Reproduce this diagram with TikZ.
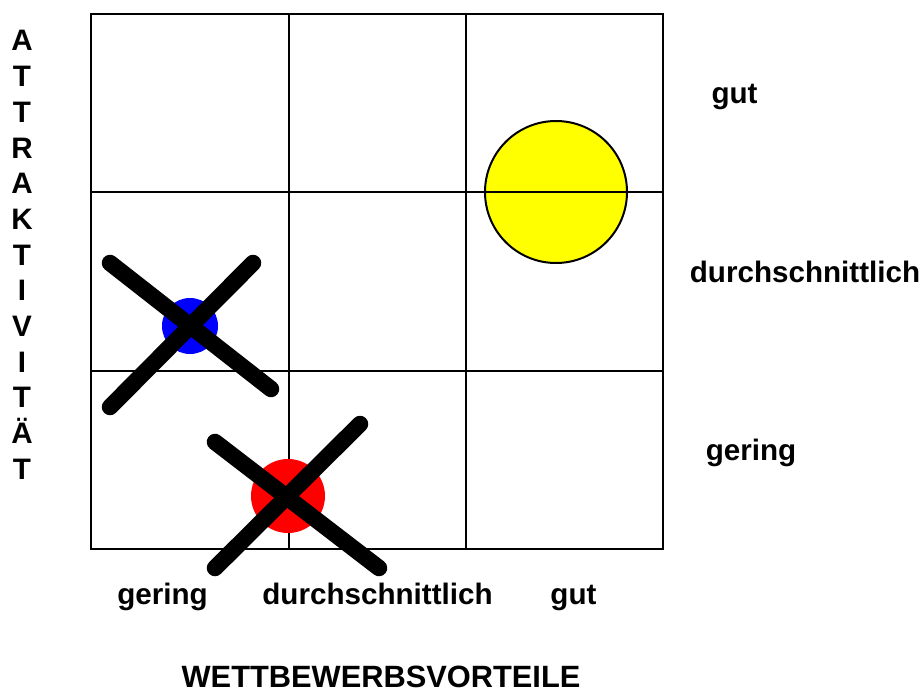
\documentclass[tikz,border=0pt]{standalone}
\usepackage{fontspec}
\setmainfont{Liberation Sans}
\definecolor{yelc}{RGB}{255,255,0}
\definecolor{bluc}{RGB}{0,0,255}
\definecolor{redc}{RGB}{255,0,0}
\begin{document}
\begin{tikzpicture}[x=1pt,y=-1pt,
  gridline/.style={line width=2pt,black},
  lbl/.style={font=\bfseries\fontsize{29.6}{34}\selectfont,inner sep=0pt,anchor=base},
  ttl/.style={font=\bfseries\fontsize{30.8}{34}\selectfont,inner sep=0pt,anchor=base},
  xmark/.style={line width=16.5pt,line cap=round,black},
  dot/.style={circle,inner sep=0pt,draw=none}]
\useasboundingbox (0,0) rectangle (923,693);
% yellow circle (behind grid)
\node[dot,fill=yelc,draw=black,line width=2pt,minimum size=142pt] (yel) at (556,192) {};
% grid
\draw[gridline] (91,14) rectangle (663,549);
\draw[gridline] (289,14) -- (289,549);
\draw[gridline] (466,14) -- (466,549);
\draw[gridline] (91,192) -- (663,192);
\draw[gridline] (91,371) -- (663,371);
% blue and red circles
\node[dot,fill=bluc,minimum size=56pt] (blu) at (190,326) {};
\node[dot,fill=redc,minimum size=74pt] (rd) at (288,496) {};
% crosses
\coordinate (a1) at (110,263); \coordinate (a2) at (271,389);
\coordinate (b1) at (253,263); \coordinate (b2) at (110,407);
\draw[xmark] (a1) -- (a2);
\draw[xmark] (b1) -- (b2);
\coordinate (c1) at (215,442); \coordinate (c2) at (379,568);
\coordinate (d1) at (360,424); \coordinate (d2) at (215,568);
\draw[xmark] (c1) -- (c2);
\draw[xmark] (d1) -- (d2);
% right labels
\node[lbl] (rgut) at (734.5,103) {gut};
\node[lbl] (rdur) at (805,282) {durchschnittlich};
\node[lbl] (rger) at (751,460) {gering};
% bottom labels
\node[lbl] (bger) at (162.5,604) {gering};
\node[lbl] (bdur) at (377.5,604) {durchschnittlich};
\node[lbl] (bgut) at (573.5,604) {gut};
\node[ttl] (title) at (381,687) {WETTBEWERBSVORTEILE};
% vertical label
\foreach \l [count=\i] in {A,T,T,R,A,K,T,I,V,I,T,Ä,T}
  \node[lbl] (v\i) at (22,{51+(\i-1)*35.67}) {\l};
\end{tikzpicture}
\end{document}
